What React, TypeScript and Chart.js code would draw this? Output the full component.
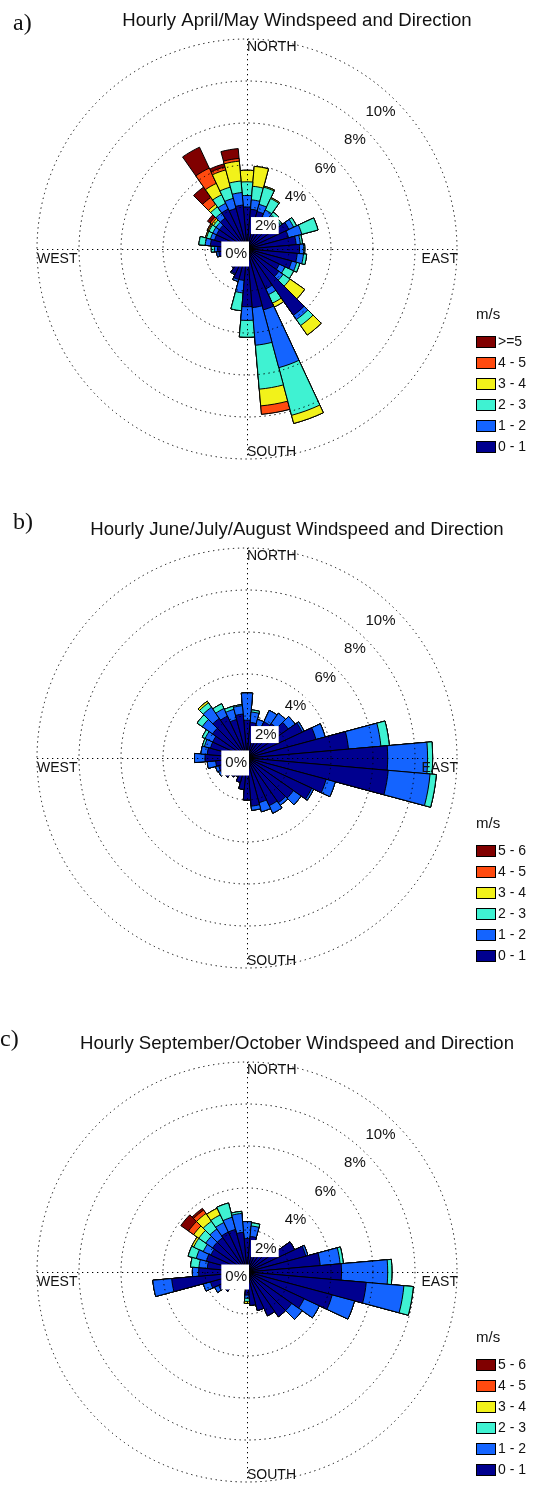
import React, { useEffect, useRef } from 'react';
import { Chart, registerables } from 'chart.js';

Chart.register(...registerables);

// Direction sectors, degrees clockwise from north (10° bins)
const DIRECTIONS = [0, 10, 20, 30, 40, 50, 60, 70, 80, 90, 100, 110, 120, 130, 140, 150, 160, 170,
  180, 190, 200, 210, 220, 230, 240, 250, 260, 270, 280, 290, 300, 310, 320, 330, 340, 350];

const SPEED_LABELS_SPRING = ['0 - 1', '1 - 2', '2 - 3', '3 - 4', '4 - 5', '>=5'];
const SPEED_LABELS_OTHER = ['0 - 1', '1 - 2', '2 - 3', '3 - 4', '4 - 5', '5 - 6'];
const SPEED_COLORS = ['#00008f', '#1464ff', '#3ff2d2', '#f2f21a', '#ff4a0f', '#800000'];
const COMPASS_NAMES = ['NORTH', 'EAST', 'SOUTH', 'WEST'];

// April/May frequency (%) per direction, one array per speed class
const aprMay_0_1 = [2.0, 1.9, 1.85, 1.7, 1.7, 1.8, 2.2, 2.05, 2.35, 2.5, 2.4, 2.2, 1.7, 1.85, 3.85, 2.1, 3.0, 2.8, 2.75, 1.5, 1.5, 1.3, 1.1, 0.9, 1.0, 1.0, 1.35, 1.4, 1.75, 1.6, 1.6, 1.6, 1.8, 2.1, 2.0, 2.1];
const aprMay_1_2 = [0.55, 0.45, 0.35, 0.35, 0.25, 0.15, 0.25, 0.65, 0.2, 0.2, 0.3, 0.25, 0.3, 0.25, 0.25, 0.3, 2.85, 1.8, 0.65, 0.6, 0.1, 0.05, 0, 0, 0, 0, 0.1, 0.15, 0.25, 0.2, 0.2, 0.2, 0.3, 0.3, 0.5, 0.6];
const aprMay_2_3 = [0.65, 0.65, 0.85, 0.6, 0.2, 0.1, 0.15, 0.8, 0.1, 0.05, 0.15, 0.15, 0.45, 0.4, 0.35, 0.45, 2.35, 2.1, 0.8, 0.85, 0, 0, 0, 0, 0, 0, 0, 0.15, 0.3, 0.2, 0.2, 0.15, 0.35, 0.45, 0.55, 0.55];
const aprMay_3_4 = [0.55, 0.95, 0.05, 0.05, 0, 0, 0, 0, 0, 0, 0, 0, 0, 0.85, 0.55, 0.2, 0.4, 0.8, 0, 0, 0, 0, 0, 0, 0, 0, 0, 0, 0, 0.05, 0.05, 0.1, 0.15, 0.6, 0.85, 0.95];
const aprMay_4_5 = [0, 0, 0, 0, 0, 0, 0, 0, 0, 0, 0, 0, 0, 0, 0, 0, 0, 0.4, 0, 0, 0, 0, 0, 0, 0, 0, 0, 0, 0, 0, 0.05, 0.1, 0.4, 0.8, 0.15, 0.13];
const aprMay_5up = [0, 0, 0, 0, 0, 0, 0, 0, 0, 0, 0, 0, 0, 0, 0, 0, 0, 0, 0, 0, 0, 0, 0, 0, 0, 0, 0, 0, 0, 0, 0, 0.15, 0.6, 1.1, 0.15, 0.47];

// June/July/August
const summer_0_1 = [1.8, 1.7, 1.6, 1.9, 2.0, 2.4, 2.9, 3.4, 4.85, 6.7, 6.75, 3.9, 3.4, 2.7, 2.6, 2.5, 2.2, 2.3, 2.0, 1.5, 1.2, 1.0, 1.1, 1.3, 1.4, 1.4, 1.5, 2.0, 1.9, 1.8, 1.8, 2.0, 2.3, 2.2, 1.9, 2.1];
const summer_1_2 = [1.3, 0.5, 0.3, 0.6, 0.6, 0.4, 0.1, 0.45, 1.55, 1.9, 2.0, 0.45, 0.1, 0.45, 0.15, 0.4, 0.45, 0.2, 0, 0, 0, 0, 0, 0, 0.1, 0.15, 0.4, 0.5, 0.3, 0.3, 0.4, 0.6, 0.65, 0.4, 0.5, 0.4];
const summer_2_3 = [0, 0.1, 0, 0, 0, 0, 0, 0, 0.4, 0.24, 0.3, 0, 0, 0, 0, 0, 0, 0, 0, 0, 0, 0, 0, 0, 0, 0, 0, 0, 0, 0.1, 0.15, 0.3, 0.25, 0.25, 0.15, 0.05];
const summer_3_4 = [0, 0, 0, 0, 0, 0, 0, 0, 0, 0, 0, 0, 0, 0, 0, 0, 0, 0, 0, 0, 0, 0, 0, 0, 0, 0, 0, 0, 0, 0, 0, 0, 0.1, 0, 0, 0];
const summer_4_5 = [0, 0, 0, 0, 0, 0, 0, 0, 0, 0, 0, 0, 0, 0, 0, 0, 0, 0, 0, 0, 0, 0, 0, 0, 0, 0, 0, 0, 0, 0, 0, 0, 0, 0, 0, 0];
const summer_5_6 = [0, 0, 0, 0, 0, 0, 0, 0, 0, 0, 0, 0, 0, 0, 0, 0, 0, 0, 0, 0, 0, 0, 0, 0, 0, 0, 0, 0, 0, 0, 0, 0, 0, 0, 0, 0];

// September/October
const sepOct_0_1 = [1.6, 1.7, 1.3, 1.2, 1.3, 1.8, 2.5, 2.9, 3.5, 4.5, 5.7, 4.2, 3.0, 2.6, 2.6, 2.3, 1.9, 1.6, 1.1, 0.8, 0.7, 0.8, 1.0, 1.3, 1.5, 1.8, 3.6, 2.3, 1.9, 2.0, 1.9, 2.0, 2.0, 2.1, 2.1, 1.9];
const sepOct_1_2 = [0.8, 0.5, 0, 0, 0, 0, 0, 0.1, 0.95, 2.2, 1.8, 1.1, 0.8, 0.6, 0, 0, 0, 0, 0.15, 0, 0, 0, 0, 0, 0.2, 0.35, 0.9, 0.3, 0.4, 0.5, 0.4, 0.4, 0.5, 0.5, 0.6, 0.9];
const sepOct_2_3 = [0, 0.15, 0, 0, 0, 0, 0, 0, 0.15, 0.2, 0.45, 0, 0, 0, 0, 0, 0, 0, 0.15, 0, 0, 0, 0, 0, 0, 0, 0, 0, 0.4, 0.4, 0.5, 0.4, 0.45, 0.4, 0.7, 0.1];
const sepOct_3_4 = [0, 0, 0, 0, 0, 0, 0, 0, 0, 0, 0, 0, 0, 0, 0, 0, 0, 0, 0.1, 0, 0, 0, 0, 0, 0, 0, 0, 0, 0, 0, 0.1, 0.3, 0.45, 0.35, 0, 0];
const sepOct_4_5 = [0, 0, 0, 0, 0, 0, 0, 0, 0, 0, 0, 0, 0, 0, 0, 0, 0, 0, 0, 0, 0, 0, 0, 0, 0, 0, 0, 0, 0, 0, 0, 0.3, 0.2, 0, 0, 0];
const sepOct_5_6 = [0, 0, 0, 0, 0, 0, 0, 0, 0, 0, 0, 0, 0, 0, 0, 0, 0, 0, 0, 0, 0, 0, 0, 0, 0, 0, 0, 0, 0, 0, 0, 0.45, 0.1, 0, 0, 0];

const FONT = "'Liberation Sans', Arial, Helvetica, sans-serif";
const SERIF = "'Liberation Serif', 'Times New Roman', serif";
const PAGE_WIDTH = 536;

type Panel = {
  letter: string;
  title: string;
  bins: number[][];
  speedLabels: string[];
  top: number;
  height: number;
  cy: number;
  letterX: number;
  letterY: number;
};

const PANELS: Panel[] = [
  {
    letter: 'a)', title: 'Hourly April/May Windspeed and Direction',
    bins: [aprMay_0_1, aprMay_1_2, aprMay_2_3, aprMay_3_4, aprMay_4_5, aprMay_5up],
    speedLabels: SPEED_LABELS_SPRING, top: 0, height: 495, cy: 249, letterX: 13, letterY: 24,
  },
  {
    letter: 'b)', title: 'Hourly June/July/August Windspeed and Direction',
    bins: [summer_0_1, summer_1_2, summer_2_3, summer_3_4, summer_4_5, summer_5_6],
    speedLabels: SPEED_LABELS_OTHER, top: 495, height: 505, cy: 263, letterX: 13, letterY: 28,
  },
  {
    letter: 'c)', title: 'Hourly September/October Windspeed and Direction',
    bins: [sepOct_0_1, sepOct_1_2, sepOct_2_3, sepOct_3_4, sepOct_4_5, sepOct_5_6],
    speedLabels: SPEED_LABELS_OTHER, top: 1000, height: 485, cy: 272, letterX: 0, letterY: 40,
  },
];

const CENTER_X = 247;
const RADIUS = 210;
const DOTS = [1.3, 3.7];

// Running totals so each speed class is drawn as an arc from the centre
// out to its cumulative frequency; smaller classes are painted on top.
function stackBins(bins: number[][]): number[][] {
  const out: number[][] = [];
  let run = DIRECTIONS.map(() => 0);
  bins.forEach((b) => {
    run = run.map((v, i) => Math.round((v + b[i]) * 1000) / 1000);
    out.push(run);
  });
  return out;
}

function drawText(ctx: CanvasRenderingContext2D, s: string, x: number, y: number, font: string, align: CanvasTextAlign) {
  ctx.font = font;
  ctx.textAlign = align;
  ctx.textBaseline = 'middle';
  ctx.fillStyle = '#111';
  ctx.fillText(s, x, y);
}

const roseDecor = {
  id: 'roseDecor',
  afterDraw(chart: any, _args: any, opts: any) {
    const ctx: CanvasRenderingContext2D = chart.ctx;
    const scale = chart.scales.r;
    const cx = scale.xCenter;
    const cy = scale.yCenter;
    const R = scale.getDistanceFromCenterForValue(scale.max);

    ctx.save();
    // dotted compass cross
    ctx.strokeStyle = '#000';
    ctx.lineWidth = 1;
    ctx.setLineDash(DOTS);
    ctx.beginPath();
    ctx.moveTo(cx + 0.5, cy - R);
    ctx.lineTo(cx + 0.5, cy + R);
    ctx.moveTo(cx - R, cy + 0.5);
    ctx.lineTo(cx + R, cy + 0.5);
    ctx.stroke();
    ctx.setLineDash([]);

    // ring labels along the north-east diagonal
    const ringFont = `15px ${FONT}`;
    scale.ticks.forEach((t: any) => {
      const r = scale.getDistanceFromCenterForValue(t.value);
      const label = `${t.value}%`;
      const xr = cx + r * Math.SQRT1_2;
      const ym = cy - r * Math.SQRT1_2 + 5 + r * 0.03;
      ctx.font = ringFont;
      const w = ctx.measureText(label).width;
      const h = t.value === 0 ? 25 : 17;
      ctx.fillStyle = '#fff';
      ctx.fillRect(xr - w - 4, ym - h / 2, w + 6, h);
      drawText(ctx, label, xr, ym, ringFont, 'right');
    });

    // compass names
    const cf = `14px ${FONT}`;
    drawText(ctx, COMPASS_NAMES[0], cx, cy - R + 8, cf, 'left');
    drawText(ctx, COMPASS_NAMES[1], cx + R + 1, cy + 10, cf, 'right');
    drawText(ctx, COMPASS_NAMES[2], cx, cy + R - 7, cf, 'left');
    drawText(ctx, COMPASS_NAMES[3], cx - R, cy + 10, cf, 'left');

    // legend, strongest class on top
    const lx = 476;
    drawText(ctx, 'm/s', lx, cy + 66, `15px ${FONT}`, 'left');
    const ds = chart.data.datasets;
    for (let k = ds.length - 1, row = 0; k >= 0; k--, row++) {
      const top = cy + 87 + row * 21;
      ctx.fillStyle = ds[k].backgroundColor;
      ctx.fillRect(lx, top, 20, 12);
      ctx.strokeStyle = '#000';
      ctx.lineWidth = 1;
      ctx.strokeRect(lx + 0.5, top + 0.5, 19, 11);
      drawText(ctx, ds[k].label, lx + 22, top + 6.5, `14px ${FONT}`, 'left');
    }

    // title and panel letter
    drawText(ctx, opts.title, 297, cy - 228, `18.6px ${FONT}`, 'center');
    drawText(ctx, opts.letter, opts.letterX, opts.letterY, `24px ${SERIF}`, 'left');
    ctx.restore();
  },
};

function WindRose({ panel }: { panel: Panel }) {
  const ref = useRef<HTMLCanvasElement>(null);

  useEffect(() => {
    const canvas = ref.current;
    if (!canvas) return;
    const stacked = stackBins(panel.bins);
    const datasets = stacked.map((data, k) => ({
      label: panel.speedLabels[k],
      data,
      backgroundColor: SPEED_COLORS[k],
      borderColor: '#000',
      borderWidth: 1,
    }));
    const chart = new Chart(canvas, {
      type: 'polarArea',
      data: { labels: DIRECTIONS.map((d) => `${d}°`), datasets },
      options: {
        responsive: false,
        animation: false,
        layout: {
          padding: {
            left: CENTER_X - RADIUS,
            right: PAGE_WIDTH - CENTER_X - RADIUS,
            top: panel.cy - RADIUS,
            bottom: panel.height - panel.cy - RADIUS,
          },
        },
        plugins: {
          legend: { display: false },
          tooltip: { enabled: false },
          roseDecor: { title: panel.title, letter: panel.letter, letterX: panel.letterX, letterY: panel.letterY },
        } as any,
        scales: {
          r: {
            min: 0,
            max: 10,
            startAngle: -5,
            ticks: { display: false, stepSize: 2 },
            grid: { display: true, circular: true, color: '#000', lineWidth: 1, z: 1 },
            border: { dash: DOTS },
            angleLines: { display: false },
            pointLabels: { display: false },
          } as any,
        },
      },
      plugins: [roseDecor],
    });
    return () => chart.destroy();
  }, [panel]);

  return (
    <canvas
      ref={ref}
      width={PAGE_WIDTH}
      height={panel.height}
      style={{ position: 'absolute', left: 0, top: panel.top, width: PAGE_WIDTH, height: panel.height }}
    />
  );
}

export default function App() {
  return (
    <div style={{ position: 'absolute', left: 0, top: 0, width: PAGE_WIDTH, height: 1485, background: '#fff' }}>
      {PANELS.map((p) => (
        <WindRose key={p.letter} panel={p} />
      ))}
    </div>
  );
}
